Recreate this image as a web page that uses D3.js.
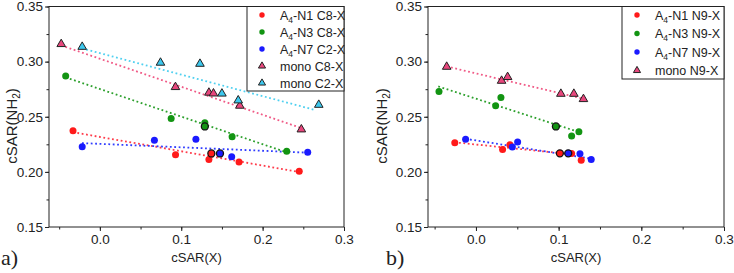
<!DOCTYPE html>
<meta charset="utf-8">
<head>
  <title>cSAR(NH2) vs cSAR(X)</title>
</head>

<style>
body { margin: 0; background: #fff; }
text { font-family: "Liberation Sans", Arial, sans-serif; fill: #222; }
.domain, .tick line { stroke: #222; }
.panel-label { font-family: "Liberation Serif", "Times New Roman", serif; font-size: 22px; }
</style>

<body>
  <svg width="734" height="273"></svg>

  <script src="https://cdn.jsdelivr.net/npm/d3@7"></script>

  <script>
// ---- panel a data: [cSAR(X), cSAR(NH2), outlined?]
var aN1 = [[-0.033, 0.2373], [0.093, 0.2156], [0.134, 0.2113], [0.137, 0.2167, 1], [0.171, 0.2089], [0.245, 0.2005]];
var aN3 = [[-0.042, 0.287], [0.0876, 0.2485], [0.129, 0.2445], [0.129, 0.2412, 1], [0.1625, 0.2318], [0.2296, 0.2186]];
var aN7 = [[-0.0217, 0.2228], [0.067, 0.2286], [0.118, 0.2295], [0.1476, 0.2167, 1], [0.162, 0.2137], [0.2554, 0.2177]];
var aMonoC8 = [[-0.0475, 0.3159], [0.0929, 0.2769], [0.134, 0.2718], [0.1396, 0.2711], [0.172, 0.26], [0.2476, 0.2385]];
var aMonoC2 = [[-0.0217, 0.3134], [0.0745, 0.299], [0.123, 0.298], [0.150, 0.271], [0.170, 0.2648], [0.269, 0.2608]];

// trend lines: [start, end]
var aFitN1 = [[-0.033, 0.236], [0.248, 0.1995]];
var aFitN3 = [[-0.042, 0.2857], [0.2296, 0.2177]];
var aFitN7 = [[-0.022, 0.2261], [0.256, 0.2174]];
var aFitMonoC8 = [[-0.0475, 0.3147], [0.2476, 0.2397]];
var aFitMonoC2 = [[-0.022, 0.312], [0.265, 0.256]];

// ---- panel b data
var bN1 = [[-0.0256, 0.2264], [0.0322, 0.2202], [0.0411, 0.2247], [0.1015, 0.2168, 1], [0.1157, 0.2166], [0.1273, 0.2105]];
var bN3 = [[-0.0447, 0.273], [0.0238, 0.26], [0.0302, 0.2675], [0.0967, 0.2412, 1], [0.1157, 0.2325], [0.1245, 0.2363]];
var bN7 = [[-0.0125, 0.2297], [0.044, 0.2225], [0.0504, 0.2272], [0.1116, 0.2168, 1], [0.1258, 0.2165], [0.1394, 0.2113]];
var bMonoN9 = [[-0.0354, 0.2953], [0.031, 0.2826], [0.0383, 0.286], [0.1027, 0.2708], [0.1184, 0.2708], [0.130, 0.266]];

var bFitN1 = [[-0.0258, 0.2268], [0.128, 0.215]];
var bFitN3 = [[-0.0456, 0.2775], [0.123, 0.2365]];
var bFitN7 = [[-0.0125, 0.230], [0.139, 0.212]];
var bFitMonoN9 = [[-0.0354, 0.2956], [0.1318, 0.266]];

var xTicks = [-0.05, 0, 0.05, 0.1, 0.15, 0.2, 0.25, 0.3];
var xLabels = [0, 0.1, 0.2, 0.3];
var yTicks = [0.15, 0.175, 0.2, 0.225, 0.25, 0.275, 0.3, 0.325, 0.35];
var yLabels = [0.15, 0.2, 0.25, 0.3, 0.35];

var colors = {
  red: '#ff1a1a', green: '#129412', blue: '#1a1aff', pink: '#e8467c', cyan: '#3cc8ee'
};
var lineColors = {
  red: '#ff3b4a', green: '#2ca02c', blue: '#2f3cff', pink: '#f05a86', cyan: '#4fd0f0'
};

var svg = d3.select('svg');

function drawPanel(opts) {
  var x = d3.scaleLinear().domain(opts.xDomain).range(opts.xRange);
  var y = d3.scaleLinear().domain([0.15, 0.35]).range([227, 6.5]);
  var g = svg.append('g');

  // frame
  g.append('rect')
    .attr('x', opts.xRange[0]).attr('y', 6.5)
    .attr('width', opts.xRange[1] - opts.xRange[0]).attr('height', 227 - 6.5)
    .attr('fill', 'none').attr('stroke', '#222').attr('stroke-width', 1);

  // minor ticks
  g.append('g').attr('transform', 'translate(0,227)')
    .call(d3.axisBottom(x).tickValues(xTicks).tickSize(2.5).tickFormat(''))
    .select('.domain').remove();
  g.append('g').attr('transform', 'translate(' + opts.xRange[0] + ',0)')
    .call(d3.axisLeft(y).tickValues(yTicks).tickSize(2.5).tickFormat(''))
    .select('.domain').remove();

  // major ticks and labels
  var xa = g.append('g').attr('transform', 'translate(0,227)')
    .call(d3.axisBottom(x).tickValues(xLabels).tickSize(4).tickPadding(3).tickFormat(d3.format('.1f')));
  xa.select('.domain').remove();
  xa.selectAll('text').style('font-size', '13.5px').attr('fill', '#222');
  var ya = g.append('g').attr('transform', 'translate(' + opts.xRange[0] + ',0)')
    .call(d3.axisLeft(y).tickValues(yLabels).tickSize(4).tickPadding(2).tickFormat(d3.format('.2f')));
  ya.select('.domain').remove();
  ya.selectAll('text').style('font-size', '13.5px').attr('fill', '#222');

  // axis titles
  var cx = (opts.xRange[0] + opts.xRange[1]) / 2;
  g.append('text').attr('x', cx).attr('y', 262).attr('text-anchor', 'middle')
    .style('font-size', '13px').text('cSAR(X)');
  var yt = g.append('text')
    .attr('transform', 'translate(' + opts.yTitleX + ',' + 126 + ') rotate(-90)')
    .attr('text-anchor', 'middle').style('font-size', '15px');
  yt.append('tspan').text('cSAR(NH');
  yt.append('tspan').attr('dy', 3).style('font-size', '10px').text('2');
  yt.append('tspan').attr('dy', -3).text(')');

  g.append('text').attr('class', 'panel-label')
    .attr('x', opts.labelX).attr('y', 265).text(opts.label);

  // trend lines
  opts.fits.forEach(function(f) {
    g.append('line')
      .attr('x1', x(f.pts[0][0])).attr('y1', y(f.pts[0][1]))
      .attr('x2', x(f.pts[1][0])).attr('y2', y(f.pts[1][1]))
      .attr('stroke', lineColors[f.color]).attr('stroke-width', 1.8)
      .attr('stroke-dasharray', '1.8,2.6');
  });

  // markers
  var tri = d3.symbol().type(d3.symbolTriangle).size(32);
  opts.series.forEach(function(s) {
    var sel = g.append('g').selectAll('.pt').data(s.data).enter();
    if (s.shape === 'circle') {
      sel.append('circle')
        .attr('cx', function(d) { return x(d[0]); })
        .attr('cy', function(d) { return y(d[1]); })
        .attr('r', 3.5)
        .attr('fill', colors[s.color])
        .attr('stroke', function(d) { return d[2] ? '#111' : 'none'; })
        .attr('stroke-width', 1.3);
    } else {
      sel.append('path')
        .attr('d', tri)
        .attr('transform', function(d) { return 'translate(' + x(d[0]) + ',' + y(d[1]) + ')'; })
        .attr('fill', colors[s.color])
        .attr('stroke', '#222').attr('stroke-width', 1);
    }
  });

  // legend
  var lg = g.append('g');
  lg.append('rect')
    .attr('x', opts.legend.x).attr('y', 6.5)
    .attr('width', opts.xRange[1] - opts.legend.x).attr('height', opts.legend.h)
    .attr('fill', '#fff').attr('stroke', '#222').attr('stroke-width', 1);
  var legTri = d3.symbol().type(d3.symbolTriangle).size(22);
  opts.series.forEach(function(s, i) {
    var ly = 15 + i * opts.legend.step;
    var mx = opts.legend.x + 15;
    if (s.shape === 'circle') {
      lg.append('circle').attr('cx', mx).attr('cy', ly).attr('r', 2.7).attr('fill', colors[s.color]);
    } else {
      lg.append('path').attr('d', legTri).attr('transform', 'translate(' + mx + ',' + ly + ')')
        .attr('fill', colors[s.color]).attr('stroke', '#222').attr('stroke-width', 1);
    }
    var t = lg.append('text').attr('x', opts.legend.x + 33).attr('y', ly + 4.5).style('font-size', '12.5px');
    if (s.sub) {
      t.append('tspan').text('A');
      t.append('tspan').attr('dy', 3).style('font-size', '8.5px').text('4');
      t.append('tspan').attr('dy', -3).text(s.name);
    } else {
      t.text(s.name);
    }
  });
}

drawPanel({
  xDomain: [-0.0625, 0.3], xRange: [49, 344], label: 'a)', labelX: 1, yTitleX: 17,
  legend: { x: 247, h: 84.5, step: 17 },
  series: [
    { data: aN1, color: 'red', shape: 'circle', sub: true, name: '-N1 C8-X' },
    { data: aN3, color: 'green', shape: 'circle', sub: true, name: '-N3 C8-X' },
    { data: aN7, color: 'blue', shape: 'circle', sub: true, name: '-N7 C2-X' },
    { data: aMonoC8, color: 'pink', shape: 'tri', name: 'mono C8-X' },
    { data: aMonoC2, color: 'cyan', shape: 'tri', name: 'mono C2-X' }
  ],
  fits: [
    { pts: aFitMonoC2, color: 'cyan' }, { pts: aFitMonoC8, color: 'pink' },
    { pts: aFitN3, color: 'green' }, { pts: aFitN1, color: 'red' }, { pts: aFitN7, color: 'blue' }
  ]
});

drawPanel({
  xDomain: [-0.058, 0.3], xRange: [428, 724], label: 'b)', labelX: 386, yTitleX: 387,
  legend: { x: 622, h: 72.5, step: 18.5 },
  series: [
    { data: bN1, color: 'red', shape: 'circle', sub: true, name: '-N1 N9-X' },
    { data: bN3, color: 'green', shape: 'circle', sub: true, name: '-N3 N9-X' },
    { data: bN7, color: 'blue', shape: 'circle', sub: true, name: '-N7 N9-X' },
    { data: bMonoN9, color: 'pink', shape: 'tri', name: 'mono N9-X' }
  ],
  fits: [
    { pts: bFitMonoN9, color: 'pink' }, { pts: bFitN3, color: 'green' },
    { pts: bFitN1, color: 'red' }, { pts: bFitN7, color: 'blue' }
  ]
});
  </script>
</body>
</html>
